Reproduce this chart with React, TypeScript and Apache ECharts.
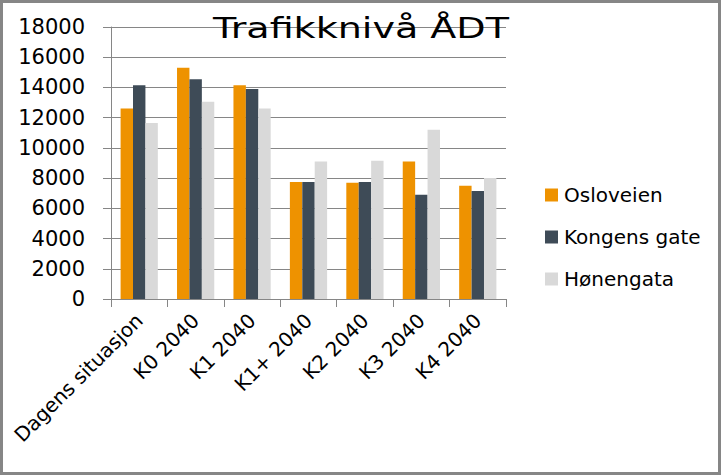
import React, { useEffect, useRef } from "react";
import * as echarts from "echarts";

const categories = ["Dagens situasjon", "K0 2040", "K1 2040", "K1+ 2040", "K2 2040", "K3 2040", "K4 2040"];
const seriesNames = ["Osloveien", "Kongens gate", "Hønengata"];
const osloveien = [12600, 15300, 14150, 7750, 7700, 9100, 7500];
const kongensGate = [14150, 14550, 13900, 7750, 7750, 6900, 7150];
const honengata = [11650, 13050, 12600, 9100, 9150, 11200, 8000];
const colors = ["#EE9200", "#3E4B57", "#D9D9D9"];
const titleText = "Trafikknivå ÅDT";
const FONT = "DejaVu Sans";

export default function App() {
  const ref = useRef<HTMLDivElement>(null);
  useEffect(() => {
    if (!ref.current) return;
    const chart = echarts.init(ref.current, null, { renderer: "svg" });
    const values = [osloveien, kongensGate, honengata];
    chart.setOption({
      animation: false,
      backgroundColor: "#ffffff",
      legend: {
        orient: "vertical",
        left: 540,
        top: 180,
        itemWidth: 13,
        itemHeight: 13,
        itemGap: 22,
        icon: "rect",
        textStyle: { fontFamily: FONT, fontSize: 20, color: "#000", padding: [0, 0, 0, 1] },
        data: seriesNames,
      },
      grid: { left: 111, right: 215, top: 27, bottom: 176, containLabel: false },
      xAxis: {
        type: "category",
        data: categories,
        axisLine: { lineStyle: { color: "#868686", width: 1 } },
        axisTick: { show: true, length: 8, interval: 0, lineStyle: { color: "#868686" } },
        axisLabel: {
          interval: 0,
          rotate: 45,
          margin: 18,
          fontFamily: FONT,
          fontSize: 20,
          color: "#000",
        },
      },
      yAxis: {
        type: "value",
        min: 0,
        max: 18000,
        interval: 2000,
        axisLine: { show: true, lineStyle: { color: "#868686" } },
        axisTick: { show: true, length: 8, lineStyle: { color: "#868686" } },
        splitLine: { show: true, lineStyle: { color: "#868686", width: 1 } },
        axisLabel: {
          margin: 26,
          fontFamily: FONT,
          fontSize: 21,
          color: "#000",
          formatter: (v: number) => String(v),
        },
      },
      series: seriesNames.map((name, i) => ({
        name,
        type: "bar",
        data: values[i],
        barGap: "0%",
        barCategoryGap: "34%",
        itemStyle: { color: colors[i] },
      })),
      graphic: [
        {
          type: "text",
          x: 213,
          y: 14,
          scaleX: 1.36,
          z: 100,
          style: {
            text: titleText,
            fontFamily: FONT,
            fontSize: 28,
            fill: "#000",
          },
          silent: true,
        },
        {
          type: "rect",
          shape: { x: 1.5, y: 1.5, width: 718, height: 472 },
          style: { fill: "none", stroke: "#868686", lineWidth: 3 },
          silent: true,
        },
      ],
    });
    return () => chart.dispose();
  }, []);
  return (
    <div style={{ position: "fixed", left: 0, top: 0, width: 721, height: 475 }}>
      <div ref={ref} style={{ width: 721, height: 475 }} />
    </div>
  );
}
